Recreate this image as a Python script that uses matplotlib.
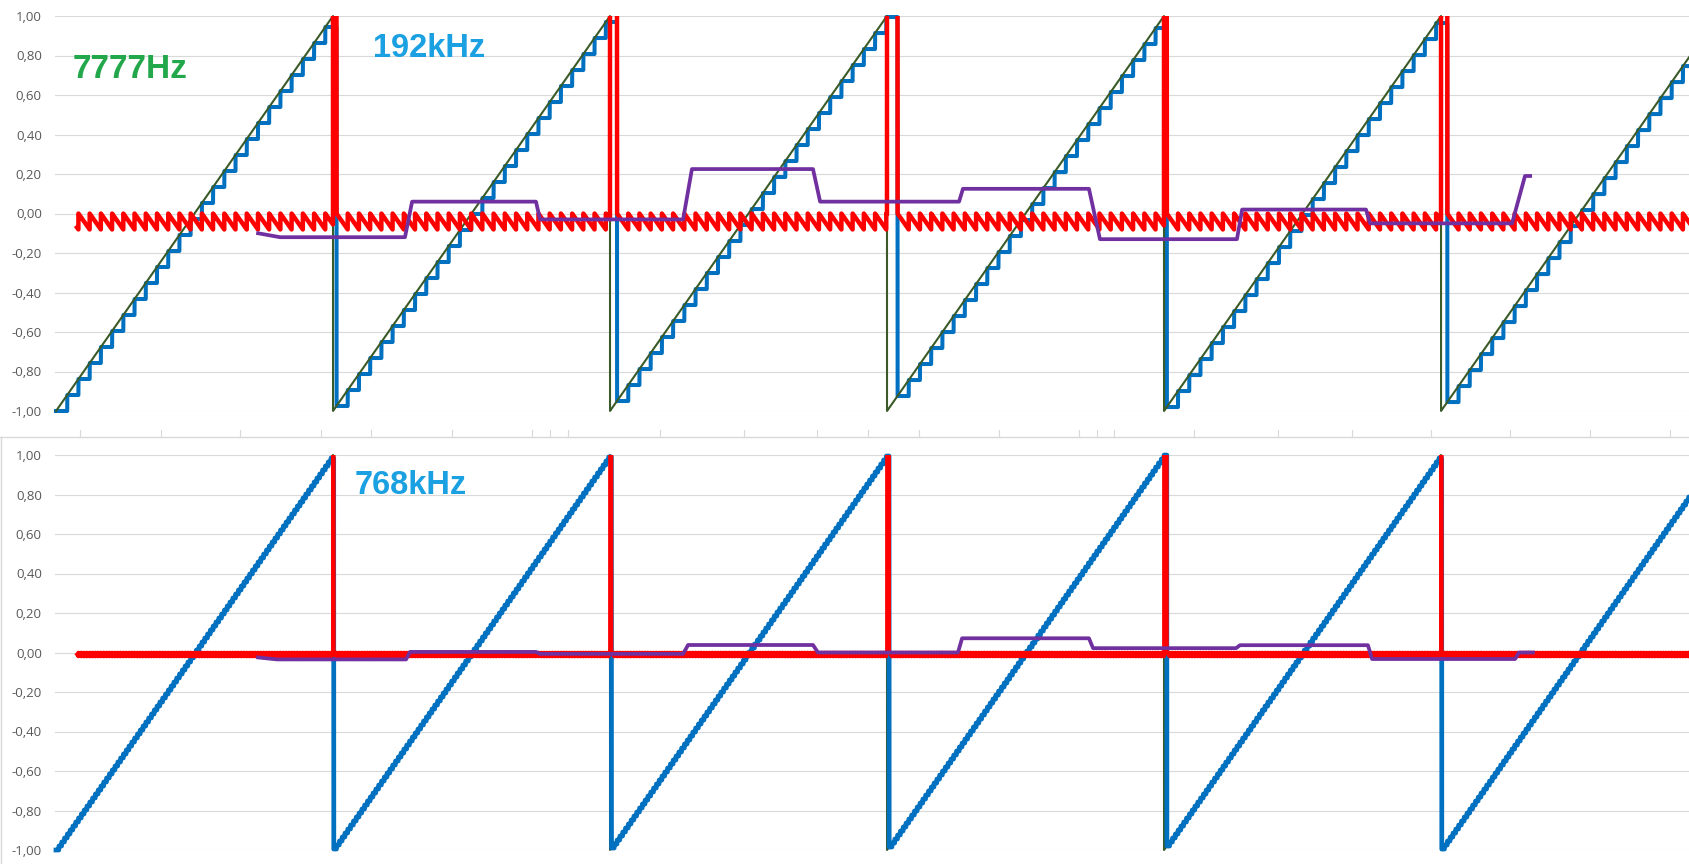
import numpy as np
import matplotlib
matplotlib.use("Agg")
import matplotlib.pyplot as plt
from matplotlib.lines import Line2D
import matplotlib.transforms as mtransforms
from matplotlib.ticker import FuncFormatter

# ---------------- data ----------------
SAW_FREQ_HZ = 7777            # ideal sawtooth (green)
RATE_TOP_HZ = 192000          # sample-and-hold rate, top chart (blue)
RATE_BOTTOM_HZ = 768000       # sample-and-hold rate, bottom chart (blue)
T_END_US = 758.5              # visible time span, microseconds
ERROR_START_US = 9.75         # red error trace starts here

LABEL_SIGNAL = "7777Hz"
LABEL_TOP = "192kHz"
LABEL_BOTTOM = "768kHz"

# purple trace, top chart (time in us, value)
PURPLE_TOP_T = [93.8, 104.0, 162.0, 165.3, 222.8, 224.7, 291.1, 295.2, 351.4, 354.7,
                419.2, 421.0, 479.5, 484.6, 548.2, 550.6, 608.1, 610.0, 675.9, 681.9, 684.3]
PURPLE_TOP_V = [-0.10, -0.12, -0.12, 0.06, 0.06, -0.03, -0.03, 0.225, 0.225, 0.06,
                0.06, 0.125, 0.125, -0.13, -0.13, 0.02, 0.02, -0.05, -0.05, 0.19, 0.19]

# purple trace, bottom chart (time in us, value)
PURPLE_BOT_T = [93.8, 102.6, 162.5, 164.3, 222.8, 224.7, 291.1, 293.4, 351.4, 353.7,
                418.7, 420.6, 479.5, 481.4, 547.8, 549.6, 609.0, 610.9, 677.3, 679.1, 685.6]
PURPLE_BOT_V = [-0.025, -0.035, -0.035, 0.003, 0.003, -0.007, -0.007, 0.038, 0.038, 0.0,
                0.0, 0.072, 0.072, 0.022, 0.022, 0.037, 0.037, -0.033, -0.033, 0.0, 0.0]

# category tick marks under the top chart (time in us)
XTICK_US = [11.1, 48.7, 85.4, 123.0, 146.2, 183.8, 221.0, 229.3, 237.7, 280.3, 319.4,
            353.3, 377.0, 400.4, 437.8, 474.9, 483.2, 491.1, 528.3, 567.3, 601.4, 638.1,
            675.0, 712.1, 749.2]

Y_TICKS = [-1.0, -0.8, -0.6, -0.4, -0.2, 0.0, 0.2, 0.4, 0.6, 0.8, 1.0]

# ---------------- styling ----------------
C_BLUE = "#0070C0"
C_GREEN = "#3A5A28"
C_RED = "#FF0000"
C_PURPLE = "#7030A0"
C_GRID = "#D9D9D9"
C_TICK = "#595959"

W, H = 1690, 864
fig = plt.figure(figsize=(W / 100, H / 100), dpi=100)
fig.patch.set_facecolor("white")

period_us = 1e6 / SAW_FREQ_HZ
t = np.arange(0.0, T_END_US, 0.02)


def ramp(tt):
    return -1.0 + 2.0 * np.mod(tt / period_us, 1.0)


def held(tt, rate):
    ts = np.floor(tt * rate / 1e6 + 1e-9) / rate * 1e6
    return ramp(ts)


def make_axes(top_px, bottom_px):
    ax = fig.add_axes([55 / W, 1 - bottom_px / H, (W - 55) / W, (bottom_px - top_px) / H])
    ax.set_xlim(-0.46, T_END_US)
    ax.set_ylim(-1.0, 1.0)
    ax.set_yticks(Y_TICKS)
    ax.yaxis.set_major_formatter(FuncFormatter(lambda v, p: f"{v:.2f}".replace(".", ",")))
    ax.set_xticks([])
    for s in ax.spines.values():
        s.set_visible(False)
    ax.tick_params(axis="y", length=0, pad=9.5, labelsize=9.5, labelcolor=C_TICK)
    for lab in ax.get_yticklabels():
        lab.set_family("Open Sans")
    ax.grid(axis="y", color=C_GRID, lw=0.8)
    ax.set_axisbelow(True)
    ax.patch.set_alpha(0)
    return ax


def draw_panel(ax, rate, blue_lw, red_lw, green_z, pt, pv):
    green = ramp(t)
    blue = held(t, rate)
    ax.plot(t, blue, color=C_BLUE, lw=blue_lw, zorder=2, clip_on=False)
    ax.plot(t, green, color=C_GREEN, lw=1.5, zorder=green_z, clip_on=False)
    m = t >= ERROR_START_US
    ax.plot(t[m], blue[m] - green[m], color=C_RED, lw=red_lw, zorder=4)
    ax.plot(pt, pv, color=C_PURPLE, lw=2.7, zorder=5, clip_on=False)


ax_top = make_axes(16, 411)
draw_panel(ax_top, RATE_TOP_HZ, 2.9, 3.2, 3, PURPLE_TOP_T, PURPLE_TOP_V)

ax_bot = make_axes(455, 850)
draw_panel(ax_bot, RATE_BOTTOM_HZ, 3.4, 2.7, 1, PURPLE_BOT_T, PURPLE_BOT_V)

# tick marks under top chart
trans = mtransforms.blended_transform_factory(ax_top.transData, fig.transFigure)
for tx in XTICK_US:
    fig.add_artist(Line2D([tx, tx], [1 - 430 / H, 1 - 437 / H], transform=trans,
                          color=C_GRID, lw=0.8))

# separator / chart border
fig.add_artist(Line2D([0, 1], [1 - 437.5 / H, 1 - 437.5 / H], transform=fig.transFigure,
                      color=C_GRID, lw=1.0))
fig.add_artist(Line2D([0.5 / W, 0.5 / W], [0, 1 - 437.5 / H], transform=fig.transFigure,
                      color=C_GRID, lw=1.0))

# labels
fig.text(73 / W, 1 - 78 / H, LABEL_SIGNAL, color="#22A84A", fontsize=24,
         fontweight="bold", family="Liberation Sans", va="baseline", ha="left")
fig.text(373 / W, 1 - 57 / H, LABEL_TOP, color="#1BA1E2", fontsize=23.5,
         fontweight="bold", family="Liberation Sans", va="baseline", ha="left")
fig.text(355 / W, 1 - 494 / H, LABEL_BOTTOM, color="#1BA1E2", fontsize=23.5,
         fontweight="bold", family="Liberation Sans", va="baseline", ha="left")

fig.savefig("out.png", dpi=100, facecolor="white")
